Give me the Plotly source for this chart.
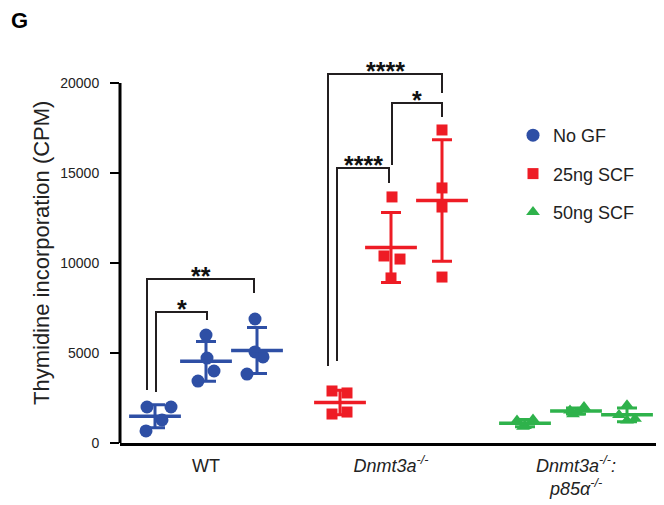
import numpy as np
import plotly.graph_objects as go

# ---------------- data ----------------
genotypes = ["WT", "Dnmt3a", "Dnmt3a:p85a"]
tick_labels = ["WT", "<i>Dnmt3a</i><sup><i>-/-</i></sup>",
               "<i>Dnmt3a</i><sup><i>-/-</i></sup><i>:</i><br><i>p85α</i><sup><i>-/-</i></sup>"]
legend_names = ["No GF", "25ng SCF", "50ng SCF"]

# CPM values, 4 replicates per condition (No GF, 25ng SCF, 50ng SCF)
wt_nogf = [2000, 2000, 1280, 670]
wt_25 = [6000, 4720, 4000, 3440]
wt_50 = [6890, 5060, 4780, 3830]
dn_nogf = [2890, 2780, 1610, 1720]
dn_25 = [13670, 10390, 10220, 9170]
dn_50 = [17390, 14170, 13110, 9220]
p85_nogf = [1300, 1250, 950, 900]
p85_25 = [2000, 1800, 1700, 1600]
p85_50 = [2100, 1550, 1350, 1250]

# horizontal jitter of replicate points (axis units)
wt_jit = [[-8, 16, 7, -9], [0, 1, 8, -8], [-2, -2, 6, -10]]
dn_jit = [[-8, 7, -8, 7], [1, -7, 9, 0], [0, 0, 0, 0]]
p85_jit = [[8, -8, 0, -2], [8, -6, 2, -3], [0, -8, 8, 0]]

# significance brackets: (group, cond_left, off_left, cond_right, off_right, y_left, y_right, y_top, label)
brackets = [
    (0, 0, 1, 1, 1, 2830, 6830, 7280, "*"),
    (0, 0, -8, 2, -3, 2940, 8330, 9110, "**"),
    (1, 0, -3, 1, -2, 4560, 14440, 15280, "****"),
    (1, 1, 1, 2, 0, 15440, 18110, 18890, "*"),
    (1, 0, -12, 2, 0, 4280, 19440, 20500, "****"),
]

y_ticks = [0, 5000, 10000, 15000, 20000]

# ---------------- style ----------------
colors = ["#2E4FA5", "#EE1C25", "#2EB24B"]
symbols = ["circle", "square", "triangle-up"]
sizes = [13, 11, 12]
FONT = "Liberation Sans, Arial, Helvetica, sans-serif"

GROUP_START, GROUP_STEP, COND_STEP = 35, 185, 51

# figure is placed 8px in from the page corner (body margin)
W, H = 656, 497
ML, MR, MT, MB = 112, 1, 57, 62
PW, PH = W - ML - MR, H - MT - MB


def pos(g, c):
    return GROUP_START + g * GROUP_STEP + c * COND_STEP


def px_x(px):  # page pixel -> paper x
    return (px - 8 - ML) / PW


def px_y(py):  # page pixel -> paper y
    return (H - MB - (py - 8)) / PH


data = [[wt_nogf, wt_25, wt_50], [dn_nogf, dn_25, dn_50], [p85_nogf, p85_25, p85_50]]
jitters = [wt_jit, dn_jit, p85_jit]

fig = go.Figure()

for g in range(3):
    xs, ys = [], []
    mx, my, sd = [], [], []
    for c in range(3):
        vals = data[g][c]
        for v, j in zip(vals, jitters[g][c]):
            xs.append(pos(g, c) + j)
            ys.append(v)
        mx.append(pos(g, c))
        my.append(float(np.mean(vals)))
        sd.append(float(np.std(vals, ddof=1)))
    fig.add_trace(go.Scatter(
        x=xs, y=ys, mode="markers", name=legend_names[g], legendgroup=str(g),
        marker=dict(symbol=symbols[g], size=sizes[g], color=colors[g], line=dict(width=0)),
        cliponaxis=False,
    ))
    fig.add_trace(go.Scatter(
        x=mx, y=my, mode="markers", showlegend=False,
        marker=dict(symbol="line-ew", size=37, color=colors[g], line=dict(width=3.5, color=colors[g])),
        error_y=dict(type="data", array=sd, visible=True, color=colors[g], thickness=3, width=10),
        cliponaxis=False,
    ))

for (g, cl, ol, cr, orr, yl, yr, yt, lab) in brackets:
    xl = pos(g, cl) + ol
    xr = pos(g, cr) + orr
    fig.add_trace(go.Scatter(
        x=[xl, xl, xr, xr], y=[yl, yt, yt, yr], mode="lines", showlegend=False,
        line=dict(color="#231F20", width=2), hoverinfo="skip",
    ))
    fig.add_annotation(x=(xl + xr) / 2, y=yt, text="<b>" + lab + "</b>", showarrow=False,
                       xanchor="center", yanchor="middle", yshift=3,
                       font=dict(family=FONT, size=25, color="#111"))

Y_TOP = 21000
fig.add_shape(type="line", xref="paper", yref="paper", x0=0, x1=0, y0=0, y1=20000 / Y_TOP,
              line=dict(color="black", width=3))

fig.add_annotation(xref="paper", yref="paper", x=px_x(41), y=px_y(253),
                   text="Thymidine incorporation (CPM)", textangle=-90, showarrow=False,
                   xanchor="center", yanchor="middle",
                   font=dict(family=FONT, size=22, color="#222"))
fig.add_annotation(xref="paper", yref="paper", x=px_x(19), y=px_y(21),
                   text="<b>G</b>", showarrow=False, xanchor="center", yanchor="middle",
                   font=dict(family=FONT, size=22, color="black"))

fig.update_layout(
    width=W, height=H,
    margin=dict(l=ML, r=MR, t=MT, b=MB, autoexpand=False),
    paper_bgcolor="white", plot_bgcolor="white",
    font=dict(family=FONT, color="#222"),
    legend=dict(x=px_x(513), y=px_y(117), xanchor="left", yanchor="top",
                font=dict(family=FONT, size=18, color="#222"), tracegroupgap=12,
                bgcolor="rgba(0,0,0,0)", borderwidth=0),
    xaxis=dict(range=[0, 543], showgrid=False, zeroline=False, showline=True, linewidth=3,
               linecolor="black", ticks="", tickvals=[pos(g, 1) for g in range(3)],
               ticktext=tick_labels, ticklabelstandoff=4,
               tickfont=dict(family=FONT, size=18, color="#222")),
    yaxis=dict(range=[0, Y_TOP], showgrid=False, zeroline=False, showline=False,
               tickvals=y_ticks, ticktext=[str(v) for v in y_ticks],
               ticks="outside", ticklen=9, tickwidth=2, tickcolor="black",
               ticklabelstandoff=8,
               tickfont=dict(family=FONT, size=14, color="#222")),
)

fig.write_html("out.html")
